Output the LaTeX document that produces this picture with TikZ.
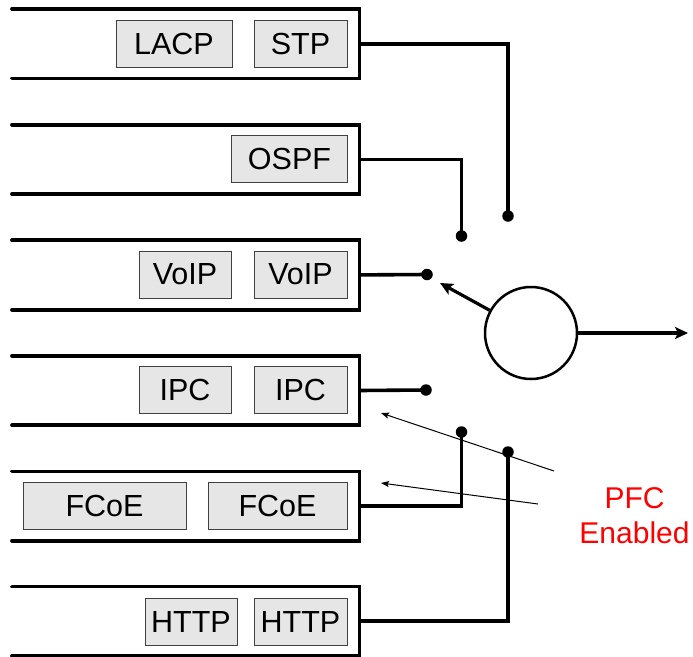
\documentclass[tikz,border=0pt]{standalone}
\usepackage{fontspec}
\setmainfont{Liberation Sans}
\usetikzlibrary{arrows.meta}

\definecolor{boxfill}{HTML}{E6E6E6}
\definecolor{boxline}{HTML}{404040}

\tikzset{
  queue/.style={rectangle, minimum width=347pt, minimum height=69pt, inner sep=0pt},
  queueline/.style={line width=3.8pt, line cap=round},
  pkt/.style={rectangle, draw=boxline, fill=boxfill, line width=1pt,
    minimum height=47pt, inner sep=0pt, font=\fontsize{30.5}{36}\selectfont},
  wire/.style={line width=3.6pt},
  tap/.style={circle, fill=black, inner sep=0pt, minimum size=11.5pt},
  sched/.style={circle, draw, line width=2.5pt, minimum size=92pt, inner sep=0pt},
  bigarrow/.style={line width=3.2pt, -{Stealth[length=13pt, width=12pt, inset=3pt]}},
  thinarrow/.style={line width=1pt, -{Stealth[length=8pt, width=6pt, inset=1.5pt]}},
}

\begin{document}
\begin{tikzpicture}[x=1pt, y=-1pt]
\useasboundingbox (0,0) rectangle (693,656);

% six queues, open on the left
\foreach \i/\top in {1/9, 2/124.6, 3/240.2, 4/355.8, 5/471.4, 6/586.5} {
  \node[queue, anchor=north west] (q\i) at (12,\top) {};
  \draw[queueline] (q\i.north west) -- (q\i.north east) -- (q\i.south east) -- (q\i.south west);
}

% packets waiting in each queue
\node[pkt, minimum width=116pt] (lacp) at (174,43.5) {LACP};
\node[pkt, minimum width=93pt] (stp) at (300.5,43.5) {STP};
\node[pkt, minimum width=116pt] (ospf) at (289.5,158.5) {OSPF};
\node[pkt, minimum width=92pt] (voip1) at (185,274.5) {VoIP};
\node[pkt, minimum width=93pt] (voip2) at (300.5,274.5) {VoIP};
\node[pkt, minimum width=92pt] (ipc1) at (185,390) {IPC};
\node[pkt, minimum width=93pt] (ipc2) at (300.5,390) {IPC};
\node[pkt, minimum width=163pt] (fcoe1) at (104.5,506) {FCoE};
\node[pkt, minimum width=139pt] (fcoe2) at (277.5,506) {FCoE};
\node[pkt, minimum width=92pt] (http1) at (191,621.5) {HTTP};
\node[pkt, minimum width=93pt] (http2) at (300.5,621.5) {HTTP};

% switch contacts
\node[tap] (d1) at (508,216) {};
\node[tap] (d2) at (461.5,236) {};
\node[tap] (d3) at (427,274.5) {};
\node[tap] (d4) at (426,390) {};
\node[tap] (d5) at (461.5,432) {};
\node[tap] (d6) at (508,452) {};

\draw[wire] (q1.east) -| (d1.center);
\draw[wire] (q2.east) -| (d2.center);
\draw[wire] (q3.east) -- (d3.center);
\draw[wire] (q4.east) -- (d4.center);
\draw[wire] (q5.east) -| (d5.center);
\draw[wire] (q6.east) -| (d6.center);

% scheduler with its selector arm and output
\node[sched] (sw) at (531,333) {};
\coordinate (arm) at (440,283);
\coordinate (out) at (688,333);
\draw[bigarrow] (sw) -- (arm);
\draw[bigarrow] (sw.east) -- (out);

% PFC pause indications
\coordinate (p1s) at (554,471);
\coordinate (p1e) at (381,413);
\coordinate (p2s) at (538,504);
\coordinate (p2e) at (381,483);
\draw[thinarrow] (p1s) -- (p1e);
\draw[thinarrow] (p2s) -- (p2e);

\node[text=red, align=center, font=\fontsize{30}{35}\selectfont] (pfc) at (634.5,516) {PFC\\Enabled};
\end{tikzpicture}
\end{document}
